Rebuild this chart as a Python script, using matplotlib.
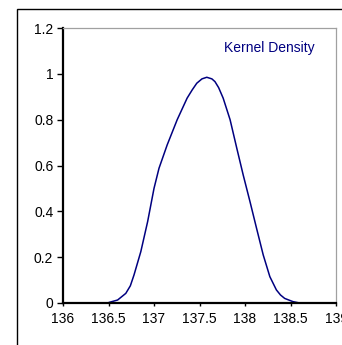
import numpy as np
import matplotlib.pyplot as plt
from matplotlib.patches import Rectangle
from matplotlib.ticker import FuncFormatter

plt.rcParams['font.family'] = ['Liberation Sans', 'DejaVu Sans']

# kernel density estimate, read at points along the curve
kd_x = [136.51, 136.60, 136.69, 136.74, 136.78, 136.855, 136.93, 137.00,
        137.055, 137.145, 137.255, 137.364, 137.42, 137.47, 137.527, 137.58,
        137.636, 137.67, 137.71, 137.76, 137.836, 137.91, 137.98, 138.055,
        138.127, 138.20, 138.273, 138.345, 138.39, 138.436, 138.527, 138.60]
kd_y = [0.003, 0.013, 0.042, 0.075, 0.122, 0.224, 0.355, 0.500,
        0.588, 0.690, 0.800, 0.894, 0.930, 0.959, 0.978, 0.985,
        0.978, 0.966, 0.940, 0.894, 0.800, 0.675, 0.559, 0.442,
        0.326, 0.210, 0.115, 0.057, 0.035, 0.020, 0.006, 0.000]

x_ticks = [136, 136.5, 137, 137.5, 138, 138.5, 139]
y_ticks = [0, 0.2, 0.4, 0.6, 0.8, 1, 1.2]

fig = plt.figure(figsize=(3.42, 3.45), dpi=100)
ax = fig.add_axes([63 / 342, 42 / 345, 273 / 342, 275 / 345])

# chart frame around everything
fig.patches.append(Rectangle((17 / 342, -0.1), 1.2, 0.1 + 336 / 345,
                             transform=fig.transFigure, fill=False,
                             edgecolor='black', linewidth=1.0))

ax.plot(kd_x, kd_y, color='#000080', linewidth=1.1,
        solid_joinstyle='round')

ax.set_xlim(136, 139)
ax.set_ylim(0, 1.2)
ax.set_xticks(x_ticks)
ax.set_yticks(y_ticks)
fmt = FuncFormatter(lambda v, p: '%g' % v)
ax.xaxis.set_major_formatter(fmt)
ax.yaxis.set_major_formatter(fmt)

for side in ('left', 'bottom'):
    ax.spines[side].set_linewidth(1.6)
    ax.spines[side].set_color('black')
for side in ('top', 'right'):
    ax.spines[side].set_linewidth(0.9)
    ax.spines[side].set_color('#a0a0a0')

ax.tick_params(axis='y', direction='out', length=4, width=1.0,
               labelsize=10, pad=3)
ax.tick_params(axis='x', direction='out', length=2.5, width=1.0,
               labelsize=10, pad=4)

ax.text(0.923, 0.927, 'Kernel Density', transform=ax.transAxes,
        ha='right', va='center', fontsize=10, color='#000080')

fig.savefig('out.png', dpi=100)
